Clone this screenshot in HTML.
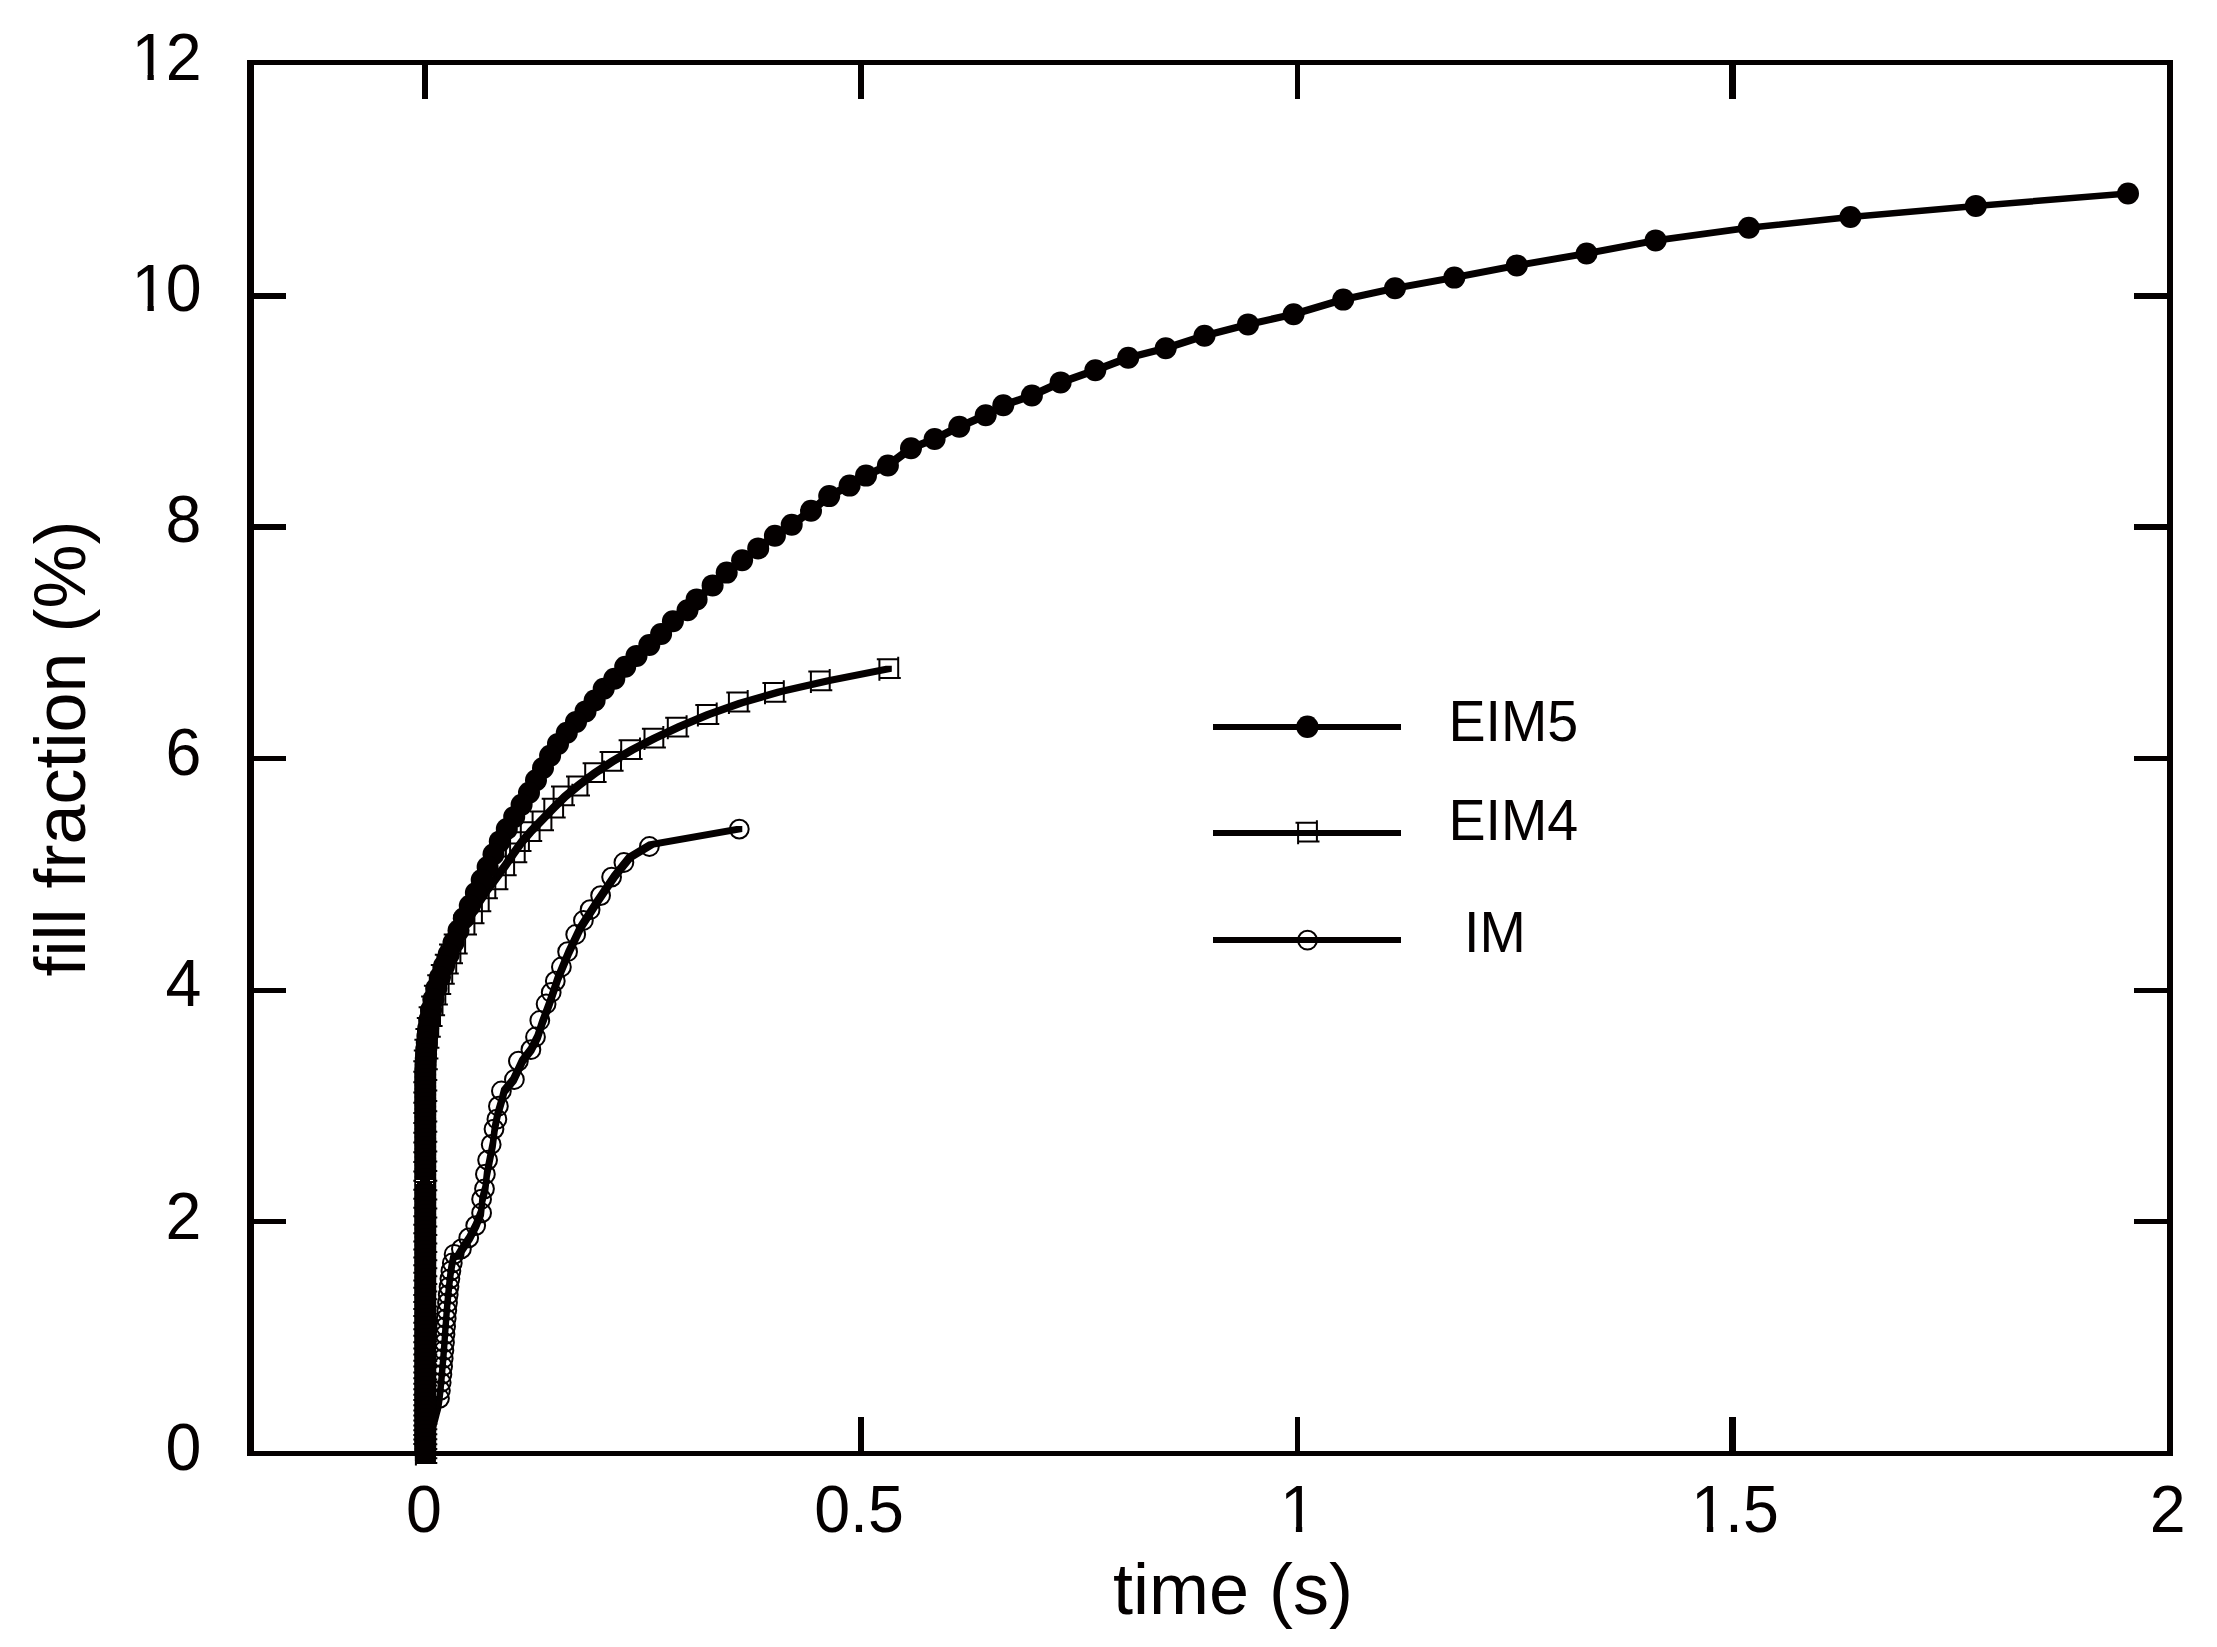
<!DOCTYPE html>
<html lang="en"><head><meta charset="utf-8"><title>fill fraction vs time</title>
<style>html,body{margin:0;padding:0;background:#fff}svg{display:block}text{font-family:'Liberation Sans', sans-serif;fill:#040000}</style>
</head><body>
<svg width="2217" height="1647" viewBox="0 0 2217 1647" shape-rendering="geometricPrecision">
<rect x="0" y="0" width="2217" height="1647" fill="#fff"/>
<g fill="#040000" shape-rendering="crispEdges">
<rect x="247" y="60" width="7" height="1396"/>
<rect x="2167" y="60" width="6" height="1396"/>
<rect x="247" y="60" width="1926" height="5"/>
<rect x="247" y="1451" width="1926" height="5"/>
<rect x="422" y="64" width="6" height="35"/>
<rect x="858" y="64" width="6" height="35"/>
<rect x="858" y="1417" width="6" height="35"/>
<rect x="1295" y="64" width="5" height="35"/>
<rect x="1295" y="1417" width="5" height="35"/>
<rect x="1729" y="64" width="7" height="35"/>
<rect x="1729" y="1417" width="7" height="35"/>
<rect x="253" y="293" width="33" height="6"/>
<rect x="2134" y="293" width="34" height="6"/>
<rect x="253" y="524" width="33" height="6"/>
<rect x="2134" y="524" width="34" height="6"/>
<rect x="253" y="756" width="33" height="5"/>
<rect x="2134" y="756" width="34" height="5"/>
<rect x="253" y="988" width="33" height="5"/>
<rect x="2134" y="988" width="34" height="5"/>
<rect x="253" y="1219" width="33" height="5"/>
<rect x="2134" y="1219" width="34" height="5"/>
</g>
<g font-size="64.5">
<text transform="translate(129.8 79.7) scale(1 1.04)"><tspan dx="1.8">1</tspan><tspan dx="-1.8">2</tspan></text>
<text transform="translate(129.8 311) scale(1 1.04)"><tspan dx="1.8">1</tspan><tspan dx="-1.8">0</tspan></text>
<text transform="translate(165.6 542.3) scale(1 1.04)">8</text>
<text transform="translate(165.6 775.3) scale(1 1.04)">6</text>
<text transform="translate(165.6 1006) scale(1 1.04)">4</text>
<text transform="translate(165.6 1238.9) scale(1 1.04)">2</text>
<text transform="translate(165.6 1470.2) scale(1 1.04)">0</text>
<text transform="translate(406.1 1532) scale(1 1.04)">0</text>
<text transform="translate(814.2 1532) scale(1 1.04)">0.5</text>
<text transform="translate(1278.2 1532) scale(1 1.04)"><tspan dx="1.8">1</tspan></text>
<text transform="translate(1689.2 1532) scale(1 1.04)"><tspan dx="1.8">1</tspan><tspan dx="-1.8">.5</tspan></text>
<text transform="translate(2149.7 1532) scale(1 1.04)">2</text>
</g>
<g fill="#fff">
<rect x="135.1" y="74.4" width="12.4" height="6.3"/>
<rect x="153.8" y="74.4" width="11.6" height="6.3"/>
<rect x="135.1" y="305.7" width="12.4" height="6.3"/>
<rect x="153.8" y="305.7" width="11.6" height="6.3"/>
<rect x="1283.5" y="1526.7" width="12.4" height="6.3"/>
<rect x="1302.2" y="1526.7" width="11.6" height="6.3"/>
<rect x="1694.5" y="1526.7" width="12.4" height="6.3"/>
<rect x="1713.2" y="1526.7" width="11.6" height="6.3"/>
</g>
<text x="1233" y="1614.3" font-size="72" text-anchor="middle">time (s)</text>
<text transform="translate(85 748.5) rotate(-90)" font-size="72" text-anchor="middle">fill fraction (%)</text>
<path fill="#040000" fill-rule="nonzero" d="M422.3 1422.8L428.3 1422.8L428.3 1456.5L422.3 1456.5ZM422.3 1383.1L428.3 1383.1L428.3 1428.8L422.3 1428.8ZM422.3 1338.7L428.3 1338.7L428.3 1389.1L422.3 1389.1ZM422.3 1297L428.3 1297L428.3 1344.7L422.3 1344.7ZM422.3 1257.4L428.3 1257.4L428.3 1303L422.3 1303ZM422.3 1216.8L428.3 1216.8L428.3 1263.4L422.3 1263.4ZM422.3 1178.8L428.3 1178.8L428.3 1222.8L422.3 1222.8ZM422.3 1147L428.3 1147L428.3 1184.8L422.3 1184.8ZM422.3 1122.6L428.3 1122.6L428.3 1153L422.3 1153ZM422.3 1103.6L428.3 1103.6L428.3 1128.6L422.3 1128.6ZM422.3 1088.8L428.3 1088.8L428.3 1109.6L422.3 1109.6ZM422.3 1077L428.3 1077L428.3 1094.8L422.3 1094.8ZM422.3 1069.4L428.3 1069.4L428.3 1083L422.3 1083ZM422.3 1069.4L422.4 1066.1L428.4 1066.1L428.4 1072.1L428.3 1075.4L422.3 1075.4ZM422.4 1064.3L428.4 1064.3L428.4 1072.1L422.4 1072.1ZM422.4 1064.3L422.6 1061L428.6 1061L428.6 1067L428.4 1070.3L422.4 1070.3ZM422.6 1061L422.9 1055.6L428.9 1055.6L428.9 1061.6L428.6 1067L422.6 1067ZM422.9 1055.6L423.2 1049.5L429.2 1049.5L429.2 1055.5L428.9 1061.6L422.9 1061.6ZM423.2 1049.5L423.6 1043.2L429.6 1043.2L429.6 1049.2L429.2 1055.5L423.2 1055.5ZM423.6 1043.2L424.2 1037L430.2 1037L430.2 1043L429.6 1049.2L423.6 1049.2ZM424.2 1037L424.9 1031L430.9 1031L430.9 1037L430.2 1043L424.2 1043ZM424.9 1031L425.7 1025L431.7 1025L431.7 1031L430.9 1037L424.9 1037ZM425.7 1025L426.6 1019L432.6 1019L432.6 1025L431.7 1031L425.7 1031ZM426.6 1019L427.7 1013L433.7 1013L433.7 1019L432.6 1025L426.6 1025ZM427.7 1013L429.1 1006.8L435.1 1006.8L435.1 1012.8L433.7 1019L427.7 1019ZM429.1 1006.8L430.6 1000.5L436.6 1000.5L436.6 1006.5L435.1 1012.8L429.1 1012.8ZM430.6 1000.5L432.3 994.4L438.3 994.4L438.3 1000.4L436.6 1006.5L430.6 1006.5ZM432.3 994.4L434 988.5L440 988.5L440 994.5L438.3 1000.4L432.3 1000.4ZM434 988.5L435.7 982.9L441.7 982.9L441.7 988.9L440 994.5L434 994.5ZM435.7 982.9L437.6 977.5L443.6 977.5L443.6 983.5L441.7 988.9L435.7 988.9ZM437.6 977.5L439.4 972.4L445.4 972.4L445.4 978.4L443.6 983.5L437.6 983.5ZM439.4 972.4L441 968L447 968L447 974L445.4 978.4L439.4 978.4ZM441 968L442.4 964.4L448.4 964.4L448.4 970.4L447 974L441 974ZM442.4 964.4L443.6 961.5L449.6 961.5L449.6 967.5L448.4 970.4L442.4 970.4ZM443.6 961.5L444.8 958.8L450.8 958.8L450.8 964.8L449.6 967.5L443.6 967.5ZM444.8 958.8L446 956L452 956L452 962L450.8 964.8L444.8 964.8ZM446 956L447.2 952.9L453.2 952.9L453.2 958.9L452 962L446 962ZM447.2 952.9L448.5 949.8L454.5 949.8L454.5 955.8L453.2 958.9L447.2 958.9ZM448.5 949.8L449.7 946.8L455.7 946.8L455.7 952.8L454.5 955.8L448.5 955.8ZM449.7 946.8L451 944L457 944L457 950L455.7 952.8L449.7 952.8ZM451 944L452.5 941.3L458.5 941.3L458.5 947.3L457 950L451 950ZM452.5 941.3L454.1 938.8L460.1 938.8L460.1 944.8L458.5 947.3L452.5 947.3ZM454.1 938.8L455.5 936.5L461.5 936.5L461.5 942.5L460.1 944.8L454.1 944.8ZM455.5 936.5L456.5 935L462.5 935L462.5 941L461.5 942.5L455.5 942.5ZM456.5 935L462.7 922.6L468.7 922.6L468.7 928.6L462.5 941L456.5 941ZM462.7 922.6L469.4 910.6L475.4 910.6L475.4 916.6L468.7 928.6L462.7 928.6ZM469.4 910.6L476.4 898.7L482.4 898.7L482.4 904.7L475.4 916.6L469.4 916.6ZM476.4 898.7L484.2 887L490.2 887L490.2 893L482.4 904.7L476.4 904.7ZM484.2 887L493 875.2L499 875.2L499 881.2L490.2 893L484.2 893ZM493 875.2L502 863L508 863L508 869L499 881.2L493 881.2ZM502 863L510.5 850.6L516.5 850.6L516.5 856.6L508 869L502 869ZM510.5 850.6L518.6 839.2L524.6 839.2L524.6 845.2L516.5 856.6L510.5 856.6ZM518.6 839.2L528 828.3L534 828.3L534 834.3L524.6 845.2L518.6 845.2ZM528 828.3L538.9 817.1L544.9 817.1L544.9 823.1L534 834.3L528 834.3ZM538.9 817.1L550.2 805.3L556.2 805.3L556.2 811.3L544.9 823.1L538.9 823.1ZM550.2 805.3L562.1 793.5L568.1 793.5L568.1 799.5L556.2 811.3L550.2 811.3ZM562.1 793.5L576 781.9L582 781.9L582 787.9L568.1 799.5L562.1 799.5ZM576 781.9L592 770.1L598 770.1L598 776.1L582 787.9L576 787.9ZM592 770.1L609.6 758.3L615.6 758.3L615.6 764.3L598 776.1L592 776.1ZM609.6 758.3L629.3 746.7L635.3 746.7L635.3 752.7L615.6 764.3L609.6 764.3ZM629.3 746.7L651.6 735.2L657.6 735.2L657.6 741.2L635.3 752.7L629.3 752.7ZM651.6 735.2L676.8 723.6L682.8 723.6L682.8 729.6L657.6 741.2L651.6 741.2ZM676.8 723.6L705.4 711.6L711.4 711.6L711.4 717.6L682.8 729.6L676.8 729.6ZM705.4 711.6L737.9 700L743.9 700L743.9 706L711.4 717.6L705.4 717.6ZM737.9 700L776.8 688.8L782.8 688.8L782.8 694.8L743.9 706L737.9 706ZM776.8 688.8L826.4 677.5L832.4 677.5L832.4 683.5L782.8 694.8L776.8 694.8ZM826.4 677.5L885.8 665.7L891.8 665.7L891.8 671.7L832.4 683.5L826.4 683.5Z"/>
<g fill="none" stroke="#040000" stroke-width="2" stroke-linecap="butt">
<path d="M413.3 1444.1H434.7M434.7 1441.5V1462.9M415.9 1462.9H437.3M415.9 1444.1V1465.5"/>
<path d="M413.3 1439.5H434.7M434.7 1436.9V1458.3M415.9 1458.3H437.3M415.9 1439.5V1460.9"/>
<path d="M413.3 1434.9H434.7M434.7 1432.3V1453.7M415.9 1453.7H437.3M415.9 1434.9V1456.3"/>
<path d="M413.3 1430.2H434.7M434.7 1427.6V1449M415.9 1449H437.3M415.9 1430.2V1451.6"/>
<path d="M413.3 1425.4H434.7M434.7 1422.8V1444.2M415.9 1444.2H437.3M415.9 1425.4V1446.8"/>
<path d="M413.3 1420.5H434.7M434.7 1417.9V1439.3M415.9 1439.3H437.3M415.9 1420.5V1441.9"/>
<path d="M413.3 1415.5H434.7M434.7 1412.9V1434.3M415.9 1434.3H437.3M415.9 1415.5V1436.9"/>
<path d="M413.3 1410.5H434.7M434.7 1407.9V1429.3M415.9 1429.3H437.3M415.9 1410.5V1431.9"/>
<path d="M413.3 1405.3H434.7M434.7 1402.7V1424.1M415.9 1424.1H437.3M415.9 1405.3V1426.7"/>
<path d="M413.3 1400.1H434.7M434.7 1397.5V1418.9M415.9 1418.9H437.3M415.9 1400.1V1421.5"/>
<path d="M413.3 1394.8H434.7M434.7 1392.2V1413.6M415.9 1413.6H437.3M415.9 1394.8V1416.2"/>
<path d="M413.3 1389.3H434.7M434.7 1386.7V1408.1M415.9 1408.1H437.3M415.9 1389.3V1410.7"/>
<path d="M413.3 1383.8H434.7M434.7 1381.2V1402.6M415.9 1402.6H437.3M415.9 1383.8V1405.2"/>
<path d="M413.3 1378.2H434.7M434.7 1375.6V1397M415.9 1397H437.3M415.9 1378.2V1399.6"/>
<path d="M413.3 1372.4H434.7M434.7 1369.8V1391.2M415.9 1391.2H437.3M415.9 1372.4V1393.8"/>
<path d="M413.3 1366.6H434.7M434.7 1364V1385.4M415.9 1385.4H437.3M415.9 1366.6V1388"/>
<path d="M413.3 1360.7H434.7M434.7 1358.1V1379.5M415.9 1379.5H437.3M415.9 1360.7V1382.1"/>
<path d="M413.3 1354.6H434.7M434.7 1352V1373.4M415.9 1373.4H437.3M415.9 1354.6V1376"/>
<path d="M413.3 1348.5H434.7M434.7 1345.9V1367.3M415.9 1367.3H437.3M415.9 1348.5V1369.9"/>
<path d="M413.3 1342.2H434.7M434.7 1339.6V1361M415.9 1361H437.3M415.9 1342.2V1363.6"/>
<path d="M413.3 1335.8H434.7M434.7 1333.2V1354.6M415.9 1354.6H437.3M415.9 1335.8V1357.2"/>
<path d="M413.3 1329.3H434.7M434.7 1326.7V1348.1M415.9 1348.1H437.3M415.9 1329.3V1350.7"/>
<path d="M413.3 1322.7H434.7M434.7 1320.1V1341.5M415.9 1341.5H437.3M415.9 1322.7V1344.1"/>
<path d="M413.3 1315.9H434.7M434.7 1313.3V1334.7M415.9 1334.7H437.3M415.9 1315.9V1337.3"/>
<path d="M413.3 1309.1H434.7M434.7 1306.5V1327.9M415.9 1327.9H437.3M415.9 1309.1V1330.5"/>
<path d="M413.3 1302.1H434.7M434.7 1299.5V1320.9M415.9 1320.9H437.3M415.9 1302.1V1323.5"/>
<path d="M413.3 1295H434.7M434.7 1292.4V1313.8M415.9 1313.8H437.3M415.9 1295V1316.4"/>
<path d="M413.3 1287.7H434.7M434.7 1285.1V1306.5M415.9 1306.5H437.3M415.9 1287.7V1309.1"/>
<path d="M413.3 1280.4H434.7M434.7 1277.8V1299.2M415.9 1299.2H437.3M415.9 1280.4V1301.8"/>
<path d="M413.3 1272.8H434.7M434.7 1270.2V1291.6M415.9 1291.6H437.3M415.9 1272.8V1294.2"/>
<path d="M413.3 1265.2H434.7M434.7 1262.6V1284M415.9 1284H437.3M415.9 1265.2V1286.6"/>
<path d="M413.3 1257.4H434.7M434.7 1254.8V1276.2M415.9 1276.2H437.3M415.9 1257.4V1278.8"/>
<path d="M413.3 1249.5H434.7M434.7 1246.9V1268.3M415.9 1268.3H437.3M415.9 1249.5V1270.9"/>
<path d="M413.3 1241.4H434.7M434.7 1238.8V1260.2M415.9 1260.2H437.3M415.9 1241.4V1262.8"/>
<path d="M413.3 1233.2H434.7M434.7 1230.6V1252M415.9 1252H437.3M415.9 1233.2V1254.6"/>
<path d="M413.3 1224.8H434.7M434.7 1222.2V1243.6M415.9 1243.6H437.3M415.9 1224.8V1246.2"/>
<path d="M413.3 1216.3H434.7M434.7 1213.7V1235.1M415.9 1235.1H437.3M415.9 1216.3V1237.7"/>
<path d="M413.3 1207.7H434.7M434.7 1205.1V1226.5M415.9 1226.5H437.3M415.9 1207.7V1229.1"/>
<path d="M413.3 1198.8H434.7M434.7 1196.2V1217.6M415.9 1217.6H437.3M415.9 1198.8V1220.2"/>
<path d="M413.3 1189.8H434.7M434.7 1187.2V1208.6M415.9 1208.6H437.3M415.9 1189.8V1211.2"/>
<path d="M413.3 1180.7H434.7M434.7 1178.1V1199.5M415.9 1199.5H437.3M415.9 1180.7V1202.1"/>
<path d="M413.3 1171.4H434.7M434.7 1168.8V1190.2M415.9 1190.2H437.3M415.9 1171.4V1192.8"/>
<path d="M413.3 1161.9H434.7M434.7 1159.3V1180.7M415.9 1180.7H437.3M415.9 1161.9V1183.3"/>
<path d="M413.3 1152.3H434.7M434.7 1149.7V1171.1M415.9 1171.1H437.3M415.9 1152.3V1173.7"/>
<path d="M413.3 1142.6H434.7M434.7 1140V1161.4M415.9 1161.4H437.3M415.9 1142.6V1164"/>
<path d="M413.3 1132.8H434.7M434.7 1130.2V1151.6M415.9 1151.6H437.3M415.9 1132.8V1154.2"/>
<path d="M413.3 1122.9H434.7M434.7 1120.3V1141.7M415.9 1141.7H437.3M415.9 1122.9V1144.3"/>
<path d="M413.3 1112.9H434.7M434.7 1110.3V1131.7M415.9 1131.7H437.3M415.9 1112.9V1134.3"/>
<path d="M413.3 1102.8H434.7M434.7 1100.2V1121.6M415.9 1121.6H437.3M415.9 1102.8V1124.2"/>
<path d="M413.3 1092.5H434.7M434.7 1089.9V1111.3M415.9 1111.3H437.3M415.9 1092.5V1113.9"/>
<path d="M413.3 1082.2H434.7M434.7 1079.6V1101M415.9 1101H437.3M415.9 1082.2V1103.6"/>
<path d="M413.3 1071.8H434.7M434.7 1069.2V1090.6M415.9 1090.6H437.3M415.9 1071.8V1093.2"/>
<path d="M413.3 1061.2H434.7M434.7 1058.6V1080M415.9 1080H437.3M415.9 1061.2V1082.6"/>
<path d="M413.8 1050.5H435.2M435.2 1047.9V1069.3M416.4 1069.3H437.8M416.4 1050.5V1071.9"/>
<path d="M414.4 1039.8H435.8M435.8 1037.2V1058.6M417 1058.6H438.4M417 1039.8V1061.2"/>
<path d="M415.4 1028.9H436.8M436.8 1026.3V1047.7M418 1047.7H439.4M418 1028.9V1050.3"/>
<path d="M416.8 1018H438.2M438.2 1015.4V1036.8M419.4 1036.8H440.8M419.4 1018V1039.4"/>
<path d="M418.6 1007.2H440M440 1004.6V1026M421.2 1026H442.6M421.2 1007.2V1028.6"/>
<path d="M421.1 996.4H442.5M442.5 993.8V1015.2M423.7 1015.2H445.1M423.7 996.4V1017.8"/>
<path d="M423.9 985.8H445.3M445.3 983.2V1004.6M426.5 1004.6H447.9M426.5 985.8V1007.2"/>
<path d="M427.2 975.3H448.6M448.6 972.7V994.1M429.8 994.1H451.2M429.8 975.3V996.7"/>
<path d="M430.8 964.9H452.2M452.2 962.3V983.7M433.4 983.7H454.8M433.4 964.9V986.3"/>
<path d="M434.8 954.7H456.2M456.2 952.1V973.5M437.4 973.5H458.8M437.4 954.7V976.1"/>
<path d="M439 944.5H460.4M460.4 941.9V963.3M441.6 963.3H463M441.6 944.5V965.9"/>
<path d="M443.7 934.6H465.1M465.1 932V953.4M446.3 953.4H467.7M446.3 934.6V956"/>
<path d="M453 915.6H474.4M474.4 913V934.4M455.6 934.4H477M455.6 915.6V937"/>
<path d="M460.5 904.4H481.9M481.9 901.8V923.2M463.1 923.2H484.5M463.1 904.4V925.8"/>
<path d="M467.3 892.5H488.7M488.7 889.9V911.3M469.9 911.3H491.3M469.9 892.5V913.9"/>
<path d="M473.9 879.4H495.3M495.3 876.8V898.2M476.5 898.2H497.9M476.5 879.4V900.8"/>
<path d="M484.4 870.4H505.8M505.8 867.8V889.2M487 889.2H508.4M487 870.4V891.8"/>
<path d="M492.7 856.4H514.1M514.1 853.8V875.2M495.3 875.2H516.7M495.3 856.4V877.8"/>
<path d="M503.3 843.4H524.7M524.7 840.8V862.2M505.9 862.2H527.3M505.9 843.4V864.8"/>
<path d="M507.5 832.3H528.9M528.9 829.7V851.1M510.1 851.1H531.5M510.1 832.3V853.7"/>
<path d="M518.2 822.3H539.6M539.6 819.7V841.1M520.8 841.1H542.2M520.8 822.3V843.7"/>
<path d="M530 811.4H551.4M551.4 808.8V830.2M532.6 830.2H554M532.6 811.4V832.8"/>
<path d="M541.7 798.7H563.1M563.1 796.1V817.5M544.3 817.5H565.7M544.3 798.7V820.1"/>
<path d="M551 786.4H572.4M572.4 783.8V805.2M553.6 805.2H575M553.6 786.4V807.8"/>
<path d="M566 776.6H587.4M587.4 774V795.4M568.6 795.4H590M568.6 776.6V798"/>
<path d="M582.6 763.2H604M604 760.6V782M585.2 782H606.6M585.2 763.2V784.6"/>
<path d="M599.6 751.9H621M621 749.3V770.7M602.2 770.7H623.6M602.2 751.9V773.3"/>
<path d="M618.6 740.2H640M640 737.6V759M621.2 759H642.6M621.2 740.2V761.6"/>
<path d="M641.9 728.7H663.3M663.3 726.1V747.5M644.5 747.5H665.9M644.5 728.7V750.1"/>
<path d="M665.2 717.8H686.6M686.6 715.2V736.6M667.8 736.6H689.2M667.8 717.8V739.2"/>
<path d="M695.3 705.1H716.7M716.7 702.5V723.9M697.9 723.9H719.3M697.9 705.1V726.5"/>
<path d="M726.3 692.6H747.7M747.7 690V711.4M728.9 711.4H750.3M728.9 692.6V714"/>
<path d="M762.4 682.9H783.8M783.8 680.3V701.7M765 701.7H786.4M765 682.9V704.3"/>
<path d="M808.3 671.5H829.7M829.7 668.9V690.3M810.9 690.3H832.3M810.9 671.5V692.9"/>
<path d="M876.8 659.3H898.2M898.2 656.7V678.1M879.4 678.1H900.8M879.4 659.3V680.7"/>
</g>
<rect x="415" y="1440" width="20.8" height="23.6" fill="#040000"/>
<path fill="#040000" fill-rule="nonzero" d="M422.3 1450.5L424.3 1443.4L430.3 1443.4L430.3 1449.4L428.3 1456.5L422.3 1456.5ZM424.3 1443.4L427.2 1433.2L433.2 1433.2L433.2 1439.2L430.3 1449.4L424.3 1449.4ZM427.2 1433.2L430.1 1422.3L436.1 1422.3L436.1 1428.3L433.2 1439.2L427.2 1439.2ZM430.1 1422.3L432.5 1413.5L438.5 1413.5L438.5 1419.5L436.1 1428.3L430.1 1428.3ZM432.5 1413.5L433.9 1408.1L439.9 1408.1L439.9 1414.1L438.5 1419.5L432.5 1419.5ZM433.9 1408.1L434.9 1404.6L440.9 1404.6L440.9 1410.6L439.9 1414.1L433.9 1414.1ZM434.9 1404.6L435.6 1400.9L441.6 1400.9L441.6 1406.9L440.9 1410.6L434.9 1410.6ZM435.6 1400.9L436.5 1395L442.5 1395L442.5 1401L441.6 1406.9L435.6 1406.9ZM436.5 1395L437.5 1386.1L443.5 1386.1L443.5 1392.1L442.5 1401L436.5 1401ZM437.5 1386.1L438.5 1375.4L444.5 1375.4L444.5 1381.4L443.5 1392.1L437.5 1392.1ZM438.5 1375.4L439.5 1363.9L445.5 1363.9L445.5 1369.9L444.5 1381.4L438.5 1381.4ZM439.5 1363.9L440.5 1352.4L446.5 1352.4L446.5 1358.4L445.5 1369.9L439.5 1369.9ZM440.5 1352.4L441.4 1340.8L447.4 1340.8L447.4 1346.8L446.5 1358.4L440.5 1358.4ZM441.4 1340.8L442.2 1328.8L448.2 1328.8L448.2 1334.8L447.4 1346.8L441.4 1346.8ZM442.2 1328.8L443.1 1317L449.1 1317L449.1 1323L448.2 1334.8L442.2 1334.8ZM443.1 1317L443.9 1306.2L449.9 1306.2L449.9 1312.2L449.1 1323L443.1 1323ZM443.9 1306.2L444.8 1296.3L450.8 1296.3L450.8 1302.3L449.9 1312.2L443.9 1312.2ZM444.8 1296.3L445.7 1287.1L451.7 1287.1L451.7 1293.1L450.8 1302.3L444.8 1302.3ZM445.7 1287.1L446.6 1278.8L452.6 1278.8L452.6 1284.8L451.7 1293.1L445.7 1293.1ZM446.6 1278.8L447.4 1271.6L453.4 1271.6L453.4 1277.6L452.6 1284.8L446.6 1284.8ZM447.4 1271.6L448.3 1265.6L454.3 1265.6L454.3 1271.6L453.4 1277.6L447.4 1277.6ZM448.3 1265.6L449.2 1260.6L455.2 1260.6L455.2 1266.6L454.3 1271.6L448.3 1271.6ZM449.2 1260.6L450 1256.8L456 1256.8L456 1262.8L455.2 1266.6L449.2 1266.6ZM450 1256.8L450.5 1254L456.5 1254L456.5 1260L456 1262.8L450 1262.8ZM450.5 1254L454.8 1253.6L460.8 1253.6L460.8 1259.6L456.5 1260L450.5 1260ZM454.8 1253.6L459.3 1245.9L465.3 1245.9L465.3 1251.9L460.8 1259.6L454.8 1259.6ZM459.3 1245.9L466.6 1234.9L472.6 1234.9L472.6 1240.9L465.3 1251.9L459.3 1251.9ZM466.6 1234.9L473 1222.6L479 1222.6L479 1228.6L472.6 1240.9L466.6 1240.9ZM473 1222.6L478 1209.9L484 1209.9L484 1215.9L479 1228.6L473 1228.6ZM478 1209.9L479.4 1196.2L485.4 1196.2L485.4 1202.2L484 1215.9L478 1215.9ZM479.4 1196.2L482.3 1185.8L488.3 1185.8L488.3 1191.8L485.4 1202.2L479.4 1202.2ZM482.3 1185.8L483.9 1171.2L489.9 1171.2L489.9 1177.2L488.3 1191.8L482.3 1191.8ZM483.9 1171.2L486.7 1157L492.7 1157L492.7 1163L489.9 1177.2L483.9 1177.2ZM486.7 1157L489.8 1141.4L495.8 1141.4L495.8 1147.4L492.7 1163L486.7 1163ZM489.8 1141.4L491.7 1126L497.7 1126L497.7 1132L495.8 1147.4L489.8 1147.4ZM491.7 1126L494.5 1112L500.5 1112L500.5 1118L497.7 1132L491.7 1132ZM494.5 1112L498.9 1097L504.9 1097L504.9 1103L500.5 1118L494.5 1118ZM498.9 1097L501.2 1088L507.2 1088L507.2 1094L504.9 1103L498.9 1103ZM501.2 1088L510.4 1077L516.4 1077L516.4 1083L507.2 1094L501.2 1094ZM510.4 1077L515.2 1067L521.2 1067L521.2 1073L516.4 1083L510.4 1083ZM515.2 1067L519.4 1058L525.4 1058L525.4 1064L521.2 1073L515.2 1073ZM519.4 1058L528.1 1046.7L534.1 1046.7L534.1 1052.7L525.4 1064L519.4 1064ZM528.1 1046.7L534.6 1034L540.6 1034L540.6 1040L534.1 1052.7L528.1 1052.7ZM534.6 1034L539.1 1020.3L545.1 1020.3L545.1 1026.3L540.6 1040L534.6 1040ZM539.1 1020.3L546.3 1001L552.3 1001L552.3 1007L545.1 1026.3L539.1 1026.3ZM546.3 1001L554.9 975.5L560.9 975.5L560.9 981.5L552.3 1007L546.3 1007ZM554.9 975.5L565.5 950L571.5 950L571.5 956L560.9 981.5L554.9 981.5ZM565.5 950L577.6 924.5L583.6 924.5L583.6 930.5L571.5 956L565.5 956ZM577.6 924.5L594.1 899L600.1 899L600.1 905L583.6 930.5L577.6 930.5ZM594.1 899L611.4 873.5L617.4 873.5L617.4 879.5L600.1 905L594.1 905ZM611.4 873.5L626.7 854.4L632.7 854.4L632.7 860.4L617.4 879.5L611.4 879.5ZM626.7 854.4L648.3 841.6L654.3 841.6L654.3 847.6L632.7 860.4L626.7 860.4ZM648.3 841.6L736.3 826.1L742.3 826.1L742.3 832.1L654.3 847.6L648.3 847.6Z"/>
<g fill="none" stroke="#040000" stroke-width="2">
<circle cx="439.5" cy="1398.3" r="9.4"/>
<circle cx="440.4" cy="1390.4" r="9.4"/>
<circle cx="441.2" cy="1382.4" r="9.4"/>
<circle cx="441.9" cy="1374.5" r="9.4"/>
<circle cx="442.6" cy="1366.5" r="9.4"/>
<circle cx="443.2" cy="1358.5" r="9.4"/>
<circle cx="443.9" cy="1350.5" r="9.4"/>
<circle cx="444.5" cy="1342.6" r="9.4"/>
<circle cx="445" cy="1334.6" r="9.4"/>
<circle cx="445.6" cy="1326.6" r="9.4"/>
<circle cx="446.2" cy="1318.6" r="9.4"/>
<circle cx="446.8" cy="1310.6" r="9.4"/>
<circle cx="447.5" cy="1302.7" r="9.4"/>
<circle cx="448.2" cy="1294.7" r="9.4"/>
<circle cx="449" cy="1286.8" r="9.4"/>
<circle cx="449.9" cy="1278.8" r="9.4"/>
<circle cx="450.9" cy="1270.9" r="9.4"/>
<circle cx="452.3" cy="1263" r="9.4"/>
<circle cx="454.1" cy="1254.3" r="9.4"/>
<circle cx="461.4" cy="1248.9" r="9.4"/>
<circle cx="468.7" cy="1237.9" r="9.4"/>
<circle cx="475.7" cy="1225.6" r="9.4"/>
<circle cx="481.6" cy="1212.9" r="9.4"/>
<circle cx="481.6" cy="1199.2" r="9.4"/>
<circle cx="484.5" cy="1188.8" r="9.4"/>
<circle cx="485.4" cy="1174.2" r="9.4"/>
<circle cx="487.6" cy="1160.1" r="9.4"/>
<circle cx="491.2" cy="1144.4" r="9.4"/>
<circle cx="494" cy="1129.1" r="9.4"/>
<circle cx="496.9" cy="1119.2" r="9.4"/>
<circle cx="498.4" cy="1106.2" r="9.4"/>
<circle cx="501.4" cy="1091" r="9.4"/>
<circle cx="514.4" cy="1079.5" r="9.4"/>
<circle cx="518.4" cy="1061.1" r="9.4"/>
<circle cx="530.9" cy="1049.7" r="9.4"/>
<circle cx="535.5" cy="1037" r="9.4"/>
<circle cx="539.8" cy="1020.5" r="9.4"/>
<circle cx="546.1" cy="1004" r="9.4"/>
<circle cx="551.2" cy="992.5" r="9.4"/>
<circle cx="555.3" cy="981.1" r="9.4"/>
<circle cx="561.4" cy="967" r="9.4"/>
<circle cx="567.6" cy="951.7" r="9.4"/>
<circle cx="575.7" cy="934.5" r="9.4"/>
<circle cx="583.4" cy="920.5" r="9.4"/>
<circle cx="590.1" cy="909.7" r="9.4"/>
<circle cx="600.6" cy="895.6" r="9.4"/>
<circle cx="611.6" cy="877.1" r="9.4"/>
<circle cx="623.9" cy="862.5" r="9.4"/>
<circle cx="649.4" cy="846.5" r="9.4"/>
<circle cx="739.3" cy="829.1" r="9.4"/>
</g>
<path fill="#040000" fill-rule="nonzero" d="M422.3 1433.8L428.3 1433.8L428.3 1456.5L422.3 1456.5ZM422.3 1410.6L428.3 1410.6L428.3 1439.8L422.3 1439.8ZM422.3 1383.1L428.3 1383.1L428.3 1416.6L422.3 1416.6ZM422.3 1353.6L428.3 1353.6L428.3 1389.1L422.3 1389.1ZM422.3 1324.2L428.3 1324.2L428.3 1359.6L422.3 1359.6ZM422.3 1297L428.3 1297L428.3 1330.2L422.3 1330.2ZM422.3 1270.9L428.3 1270.9L428.3 1303L422.3 1303ZM422.3 1243.8L428.3 1243.8L428.3 1276.9L422.3 1276.9ZM422.3 1216.8L428.3 1216.8L428.3 1249.8L422.3 1249.8ZM422.3 1190.9L428.3 1190.9L428.3 1222.8L422.3 1222.8ZM422.3 1167.3L428.3 1167.3L428.3 1196.9L422.3 1196.9ZM422.3 1147L428.3 1147L428.3 1173.3L422.3 1173.3ZM422.3 1130.1L428.3 1130.1L428.3 1153L422.3 1153ZM422.3 1115.7L428.3 1115.7L428.3 1136.1L422.3 1136.1ZM422.3 1103.6L428.3 1103.6L428.3 1121.7L422.3 1121.7ZM422.3 1093.4L428.3 1093.4L428.3 1109.6L422.3 1109.6ZM422.3 1084.6L428.3 1084.6L428.3 1099.4L422.3 1099.4ZM422.3 1077L428.3 1077L428.3 1090.6L422.3 1090.6ZM422.3 1071.3L428.3 1071.3L428.3 1083L422.3 1083ZM422.3 1068L428.3 1068L428.3 1077.3L422.3 1077.3ZM422.3 1068L422.4 1066.1L428.4 1066.1L428.4 1072.1L428.3 1074L422.3 1074ZM422.4 1064.9L428.4 1064.9L428.4 1072.1L422.4 1072.1ZM422.4 1064.9L422.5 1063.5L428.5 1063.5L428.5 1069.5L428.4 1070.9L422.4 1070.9ZM422.5 1063.5L422.6 1061L428.6 1061L428.6 1067L428.5 1069.5L422.5 1069.5ZM422.6 1061L422.8 1057.5L428.8 1057.5L428.8 1063.5L428.6 1067L422.6 1067ZM422.8 1057.5L422.9 1053.6L428.9 1053.6L428.9 1059.6L428.8 1063.5L422.8 1063.5ZM422.9 1053.6L423.1 1049.5L429.1 1049.5L429.1 1055.5L428.9 1059.6L422.9 1059.6ZM423.1 1049.5L423.4 1045.3L429.4 1045.3L429.4 1051.3L429.1 1055.5L423.1 1055.5ZM423.4 1045.3L423.7 1041.1L429.7 1041.1L429.7 1047.1L429.4 1051.3L423.4 1051.3ZM423.7 1041.1L424 1037L430 1037L430 1043L429.7 1047.1L423.7 1047.1ZM424 1037L424.4 1033L430.4 1033L430.4 1039L430 1043L424 1043ZM424.4 1033L424.8 1029L430.8 1029L430.8 1035L430.4 1039L424.4 1039ZM424.8 1029L425.2 1025L431.2 1025L431.2 1031L430.8 1035L424.8 1035ZM425.2 1025L425.8 1021L431.8 1021L431.8 1027L431.2 1031L425.2 1031ZM425.8 1021L426.3 1017L432.3 1017L432.3 1023L431.8 1027L425.8 1027ZM426.3 1017L427 1013L433 1013L433 1019L432.3 1023L426.3 1023ZM427 1013L427.7 1008.9L433.7 1008.9L433.7 1014.9L433 1019L427 1019ZM427.7 1008.9L428.5 1004.9L434.5 1004.9L434.5 1010.9L433.7 1014.9L427.7 1014.9ZM428.5 1004.9L429.4 1000.8L435.4 1000.8L435.4 1006.8L434.5 1010.9L428.5 1010.9ZM429.4 1000.8L430.4 996.7L436.4 996.7L436.4 1002.7L435.4 1006.8L429.4 1006.8ZM430.4 996.7L431.4 992.6L437.4 992.6L437.4 998.6L436.4 1002.7L430.4 1002.7ZM431.4 992.6L432.5 988.5L438.5 988.5L438.5 994.5L437.4 998.6L431.4 998.6ZM432.5 988.5L433.7 984.4L439.7 984.4L439.7 990.4L438.5 994.5L432.5 994.5ZM433.7 984.4L435 980.3L441 980.3L441 986.3L439.7 990.4L433.7 990.4ZM435 980.3L436.3 976.2L442.3 976.2L442.3 982.2L441 986.3L435 986.3ZM436.3 976.2L437.8 972.1L443.8 972.1L443.8 978.1L442.3 982.2L436.3 982.2ZM437.8 972.1L439.2 968.1L445.2 968.1L445.2 974.1L443.8 978.1L437.8 978.1ZM439.2 968.1L440.7 964L446.7 964L446.7 970L445.2 974.1L439.2 974.1ZM440.7 964L442.2 960L448.2 960L448.2 966L446.7 970L440.7 970ZM442.2 960L443.8 956L449.8 956L449.8 962L448.2 966L442.2 966ZM443.8 956L445.4 952L451.4 952L451.4 958L449.8 962L443.8 962ZM445.4 952L447.1 948L453.1 948L453.1 954L451.4 958L445.4 958ZM447.1 948L448.7 944L454.7 944L454.7 950L453.1 954L447.1 954ZM448.7 944L450.4 940L456.4 940L456.4 946L454.7 950L448.7 950ZM450.4 940L452.1 936L458.1 936L458.1 942L456.4 946L450.4 946ZM452.1 936L453.7 931.9L459.7 931.9L459.7 937.9L458.1 942L452.1 942ZM453.7 931.9L455.4 927.8L461.4 927.8L461.4 933.8L459.7 937.9L453.7 937.9ZM455.4 927.8L457.1 923.7L463.1 923.7L463.1 929.7L461.4 933.8L455.4 933.8ZM457.1 923.7L458.8 919.7L464.8 919.7L464.8 925.7L463.1 929.7L457.1 929.7ZM458.8 919.7L460.6 915.6L466.6 915.6L466.6 921.6L464.8 925.7L458.8 925.7ZM460.6 915.6L462.5 911.6L468.5 911.6L468.5 917.6L466.6 921.6L460.6 921.6ZM462.5 911.6L464.4 907.6L470.4 907.6L470.4 913.6L468.5 917.6L462.5 917.6ZM464.4 907.6L466.3 903.6L472.3 903.6L472.3 909.6L470.4 913.6L464.4 913.6ZM466.3 903.6L468.3 899.6L474.3 899.6L474.3 905.6L472.3 909.6L466.3 909.6ZM468.3 899.6L470.3 895.5L476.3 895.5L476.3 901.5L474.3 905.6L468.3 905.6ZM470.3 895.5L472.3 891.3L478.3 891.3L478.3 897.3L476.3 901.5L470.3 901.5ZM472.3 891.3L474.3 886.9L480.3 886.9L480.3 892.9L478.3 897.3L472.3 897.3ZM474.3 886.9L476.3 882.5L482.3 882.5L482.3 888.5L480.3 892.9L474.3 892.9ZM476.3 882.5L478.3 877.9L484.3 877.9L484.3 883.9L482.3 888.5L476.3 888.5ZM478.3 877.9L480.4 873.3L486.4 873.3L486.4 879.3L484.3 883.9L478.3 883.9ZM480.4 873.3L482.4 868.8L488.4 868.8L488.4 874.8L486.4 879.3L480.4 879.3ZM482.4 868.8L484.5 864.2L490.5 864.2L490.5 870.2L488.4 874.8L482.4 874.8ZM484.5 864.2L486.6 859.6L492.6 859.6L492.6 865.6L490.5 870.2L484.5 870.2ZM486.6 859.6L488.8 854.9L494.8 854.9L494.8 860.9L492.6 865.6L486.6 865.6ZM488.8 854.9L490.9 850.3L496.9 850.3L496.9 856.3L494.8 860.9L488.8 860.9ZM490.9 850.3L493.1 845.7L499.1 845.7L499.1 851.7L496.9 856.3L490.9 856.3ZM493.1 845.7L495.3 841.2L501.3 841.2L501.3 847.2L499.1 851.7L493.1 851.7ZM495.3 841.2L497.5 837L503.5 837L503.5 843L501.3 847.2L495.3 847.2ZM497.5 837L499.7 833L505.7 833L505.7 839L503.5 843L497.5 843ZM499.7 833L501.8 829.2L507.8 829.2L507.8 835.2L505.7 839L499.7 839ZM501.8 829.2L504 825.6L510 825.6L510 831.6L507.8 835.2L501.8 835.2ZM504 825.6L506.2 822.1L512.2 822.1L512.2 828.1L510 831.6L504 831.6ZM506.2 822.1L508.3 818.5L514.3 818.5L514.3 824.5L512.2 828.1L506.2 828.1ZM508.3 818.5L510.5 815L516.5 815L516.5 821L514.3 824.5L508.3 824.5ZM510.5 815L512.7 811.5L518.7 811.5L518.7 817.5L516.5 821L510.5 821ZM512.7 811.5L514.8 808L520.8 808L520.8 814L518.7 817.5L512.7 817.5ZM514.8 808L517 804.5L523 804.5L523 810.5L520.8 814L514.8 814ZM517 804.5L519.1 801.1L525.1 801.1L525.1 807.1L523 810.5L517 810.5ZM519.1 801.1L521.2 797.7L527.2 797.7L527.2 803.7L525.1 807.1L519.1 807.1ZM521.2 797.7L523.3 794.2L529.3 794.2L529.3 800.2L527.2 803.7L521.2 803.7ZM523.3 794.2L525.3 790.7L531.3 790.7L531.3 796.7L529.3 800.2L523.3 800.2ZM525.3 790.7L527.3 787.3L533.3 787.3L533.3 793.3L531.3 796.7L525.3 796.7ZM527.3 787.3L529.3 783.9L535.3 783.9L535.3 789.9L533.3 793.3L527.3 793.3ZM529.3 783.9L531.3 780.4L537.3 780.4L537.3 786.4L535.3 789.9L529.3 789.9ZM531.3 780.4L533.3 776.8L539.3 776.8L539.3 782.8L537.3 786.4L531.3 786.4ZM533.3 776.8L535.5 773L541.5 773L541.5 779L539.3 782.8L533.3 782.8ZM535.5 773L537.8 769L543.8 769L543.8 775L541.5 779L535.5 779ZM537.8 769L540.1 764.8L546.1 764.8L546.1 770.8L543.8 775L537.8 775ZM540.1 764.8L542.5 760.5L548.5 760.5L548.5 766.5L546.1 770.8L540.1 770.8ZM542.5 760.5L545 756.2L551 756.2L551 762.2L548.5 766.5L542.5 766.5ZM545 756.2L547.5 752L553.5 752L553.5 758L551 762.2L545 762.2ZM547.5 752L550 748L556 748L556 754L553.5 758L547.5 758ZM550 748L552.6 744.2L558.6 744.2L558.6 750.2L556 754L550 754ZM552.6 744.2L555.2 740.6L561.2 740.6L561.2 746.6L558.6 750.2L552.6 750.2ZM555.2 740.6L557.9 737.1L563.9 737.1L563.9 743.1L561.2 746.6L555.2 746.6ZM557.9 737.1L560.6 733.7L566.6 733.7L566.6 739.7L563.9 743.1L557.9 743.1ZM560.6 733.7L563.3 730.3L569.3 730.3L569.3 736.3L566.6 739.7L560.6 739.7ZM563.3 730.3L566 727L572 727L572 733L569.3 736.3L563.3 736.3ZM566 727L568.9 723.5L574.9 723.5L574.9 729.5L572 733L566 733ZM568.9 723.5L572.1 719.9L578.1 719.9L578.1 725.9L574.9 729.5L568.9 729.5ZM572.1 719.9L575.2 716.4L581.2 716.4L581.2 722.4L578.1 725.9L572.1 725.9ZM575.2 716.4L578.2 713.1L584.2 713.1L584.2 719.1L581.2 722.4L575.2 722.4ZM578.2 713.1L580.7 710.4L586.7 710.4L586.7 716.4L584.2 719.1L578.2 719.1ZM580.7 710.4L582.5 708.4L588.5 708.4L588.5 714.4L586.7 716.4L580.7 716.4ZM582.5 708.4L591.6 697.5L597.6 697.5L597.6 703.5L588.5 714.4L582.5 714.4ZM591.6 697.5L600.7 685.7L606.7 685.7L606.7 691.7L597.6 703.5L591.6 703.5ZM600.7 685.7L611.3 675.7L617.3 675.7L617.3 681.7L606.7 691.7L600.7 691.7ZM611.3 675.7L622.2 663.8L628.2 663.8L628.2 669.8L617.3 681.7L611.3 681.7ZM622.2 663.8L633.5 652.9L639.5 652.9L639.5 658.9L628.2 669.8L622.2 669.8ZM633.5 652.9L646.3 642L652.3 642L652.3 648L639.5 658.9L633.5 658.9ZM646.3 642L658.1 631L664.1 631L664.1 637L652.3 648L646.3 648ZM658.1 631L669.9 618.3L675.9 618.3L675.9 624.3L664.1 637L658.1 637ZM669.9 618.3L684.5 607.3L690.5 607.3L690.5 613.3L675.9 624.3L669.9 624.3ZM684.5 607.3L693.6 596.4L699.6 596.4L699.6 602.4L690.5 613.3L684.5 613.3ZM693.6 596.4L709.6 582.4L715.6 582.4L715.6 588.4L699.6 602.4L693.6 602.4ZM709.6 582.4L723.7 569.6L729.7 569.6L729.7 575.6L715.6 588.4L709.6 588.4ZM723.7 569.6L739.1 557.3L745.1 557.3L745.1 563.3L729.7 575.6L723.7 575.6ZM739.1 557.3L755.2 545.4L761.2 545.4L761.2 551.4L745.1 563.3L739.1 563.3ZM755.2 545.4L771.9 532.7L777.9 532.7L777.9 538.7L761.2 551.4L755.2 551.4ZM771.9 532.7L788.7 521.7L794.7 521.7L794.7 527.7L777.9 538.7L771.9 538.7ZM788.7 521.7L808 507.7L814 507.7L814 513.7L794.7 527.7L788.7 527.7ZM808 507.7L826.2 493.1L832.2 493.1L832.2 499.1L814 513.7L808 513.7ZM826.2 493.1L846.6 482.6L852.6 482.6L852.6 488.6L832.2 499.1L826.2 499.1ZM846.6 482.6L863 472.6L869 472.6L869 478.6L852.6 488.6L846.6 488.6ZM863 472.6L884.9 462.5L890.9 462.5L890.9 468.5L869 478.6L863 478.6ZM884.9 462.5L908 445.2L914 445.2L914 451.2L890.9 468.5L884.9 468.5ZM908 445.2L931.6 436L937.6 436L937.6 442L914 451.2L908 451.2ZM931.6 436L956.3 423.8L962.3 423.8L962.3 429.8L937.6 442L931.6 442ZM956.3 423.8L982.7 412.3L988.7 412.3L988.7 418.3L962.3 429.8L956.3 429.8ZM982.7 412.3L1000.3 402.2L1006.3 402.2L1006.3 408.2L988.7 418.3L982.7 418.3ZM1000.3 402.2L1028.9 392.5L1034.9 392.5L1034.9 398.5L1006.3 408.2L1000.3 408.2ZM1028.9 392.5L1057.6 379.4L1063.6 379.4L1063.6 385.4L1034.9 398.5L1028.9 398.5ZM1057.6 379.4L1092.3 367.2L1098.3 367.2L1098.3 373.2L1063.6 385.4L1057.6 385.4ZM1092.3 367.2L1125.2 354.8L1131.2 354.8L1131.2 360.8L1098.3 373.2L1092.3 373.2ZM1125.2 354.8L1162.7 345.3L1168.7 345.3L1168.7 351.3L1131.2 360.8L1125.2 360.8ZM1162.7 345.3L1201.5 332.7L1207.5 332.7L1207.5 338.7L1168.7 351.3L1162.7 351.3ZM1201.5 332.7L1245 321.4L1251 321.4L1251 327.4L1207.5 338.7L1201.5 338.7ZM1245 321.4L1290.6 311.3L1296.6 311.3L1296.6 317.3L1251 327.4L1245 327.4ZM1290.6 311.3L1340.2 296.6L1346.2 296.6L1346.2 302.6L1296.6 317.3L1290.6 317.3ZM1340.2 296.6L1392 285.3L1398 285.3L1398 291.3L1346.2 302.6L1340.2 302.6ZM1392 285.3L1451.3 274.6L1457.3 274.6L1457.3 280.6L1398 291.3L1392 291.3ZM1451.3 274.6L1513.8 262.4L1519.8 262.4L1519.8 268.4L1457.3 280.6L1451.3 280.6ZM1513.8 262.4L1583.6 250.5L1589.6 250.5L1589.6 256.5L1519.8 268.4L1513.8 268.4ZM1583.6 250.5L1652.6 237.4L1658.6 237.4L1658.6 243.4L1589.6 256.5L1583.6 256.5ZM1652.6 237.4L1745.8 224.8L1751.8 224.8L1751.8 230.8L1658.6 243.4L1652.6 243.4ZM1745.8 224.8L1847.4 214L1853.4 214L1853.4 220L1751.8 230.8L1745.8 230.8ZM1847.4 214L1972.8 202.9L1978.8 202.9L1978.8 208.9L1853.4 220L1847.4 220ZM1972.8 202.9L2125 190.5L2131 190.5L2131 196.5L1978.8 208.9L1972.8 208.9Z"/>
<g fill="#040000">
<circle cx="585.5" cy="711.4" r="11.0"/>
<circle cx="576" cy="721.9" r="11.0"/>
<circle cx="566.8" cy="732.7" r="11.0"/>
<circle cx="558" cy="743.9" r="11.0"/>
<circle cx="550.1" cy="755.7" r="11.0"/>
<circle cx="543" cy="768" r="11.0"/>
<circle cx="536" cy="780.3" r="11.0"/>
<circle cx="529" cy="792.7" r="11.0"/>
<circle cx="521.6" cy="804.8" r="11.0"/>
<circle cx="514.2" cy="816.9" r="11.0"/>
<circle cx="506.8" cy="829" r="11.0"/>
<circle cx="499.8" cy="841.4" r="11.0"/>
<circle cx="493.5" cy="854.2" r="11.0"/>
<circle cx="487.6" cy="867" r="11.0"/>
<circle cx="481.7" cy="880" r="11.0"/>
<circle cx="475.9" cy="892.9" r="11.0"/>
<circle cx="469.8" cy="905.7" r="11.0"/>
<circle cx="463.8" cy="918.2" r="11.0"/>
<circle cx="458.5" cy="930.6" r="11.0"/>
<circle cx="453.5" cy="942.7" r="11.0"/>
<circle cx="448.7" cy="954.4" r="11.0"/>
<circle cx="444.1" cy="965.9" r="11.0"/>
<circle cx="440" cy="977.2" r="11.0"/>
<circle cx="436.4" cy="988.3" r="11.0"/>
<circle cx="433.5" cy="999.3" r="11.0"/>
<circle cx="431.1" cy="1010.1" r="11.0"/>
<circle cx="429.4" cy="1019.7" r="11.0"/>
<circle cx="428.2" cy="1028.4" r="11.0"/>
<circle cx="427.4" cy="1036" r="11.0"/>
<circle cx="426.8" cy="1042.8" r="11.0"/>
<circle cx="426.3" cy="1048.8" r="11.0"/>
<circle cx="426.1" cy="1054.1" r="11.0"/>
<circle cx="425.8" cy="1058.8" r="11.0"/>
<circle cx="425.6" cy="1062.9" r="11.0"/>
<circle cx="425.5" cy="1066.9" r="11.0"/>
<circle cx="425.3" cy="1070.9" r="11.0"/>
<circle cx="425.3" cy="1074.9" r="11.0"/>
<circle cx="425.3" cy="1078.9" r="11.0"/>
<circle cx="425.3" cy="1082.9" r="11.0"/>
<circle cx="425.3" cy="1086.9" r="11.0"/>
<circle cx="425.3" cy="1090.9" r="11.0"/>
<circle cx="425.3" cy="1094.9" r="11.0"/>
<circle cx="425.3" cy="1098.9" r="11.0"/>
<circle cx="425.3" cy="1102.9" r="11.0"/>
<circle cx="425.3" cy="1106.9" r="11.0"/>
<circle cx="425.3" cy="1110.9" r="11.0"/>
<circle cx="425.3" cy="1114.9" r="11.0"/>
<circle cx="425.3" cy="1118.9" r="11.0"/>
<circle cx="425.3" cy="1122.9" r="11.0"/>
<circle cx="425.3" cy="1126.9" r="11.0"/>
<circle cx="425.3" cy="1130.9" r="11.0"/>
<circle cx="425.3" cy="1134.9" r="11.0"/>
<circle cx="425.3" cy="1138.9" r="11.0"/>
<circle cx="425.3" cy="1142.9" r="11.0"/>
<circle cx="425.3" cy="1146.9" r="11.0"/>
<circle cx="425.3" cy="1150.9" r="11.0"/>
<circle cx="425.3" cy="1154.9" r="11.0"/>
<circle cx="425.3" cy="1158.9" r="11.0"/>
<circle cx="425.3" cy="1162.9" r="11.0"/>
<circle cx="425.3" cy="1166.9" r="11.0"/>
<circle cx="425.3" cy="1170.9" r="11.0"/>
<circle cx="425.3" cy="1174.9" r="11.0"/>
<circle cx="425.3" cy="1178.9" r="11.0"/>
<circle cx="425.3" cy="1182.9" r="11.0"/>
<circle cx="425.3" cy="1186.9" r="11.0"/>
<circle cx="425.3" cy="1190.9" r="11.0"/>
<circle cx="425.3" cy="1194.9" r="11.0"/>
<circle cx="425.3" cy="1198.9" r="11.0"/>
<circle cx="425.3" cy="1202.9" r="11.0"/>
<circle cx="425.3" cy="1206.9" r="11.0"/>
<circle cx="425.3" cy="1210.9" r="11.0"/>
<circle cx="425.3" cy="1214.9" r="11.0"/>
<circle cx="425.3" cy="1218.9" r="11.0"/>
<circle cx="425.3" cy="1222.9" r="11.0"/>
<circle cx="425.3" cy="1226.9" r="11.0"/>
<circle cx="425.3" cy="1230.9" r="11.0"/>
<circle cx="425.3" cy="1234.9" r="11.0"/>
<circle cx="425.3" cy="1238.9" r="11.0"/>
<circle cx="425.3" cy="1242.9" r="11.0"/>
<circle cx="425.3" cy="1246.9" r="11.0"/>
<circle cx="425.3" cy="1250.9" r="11.0"/>
<circle cx="425.3" cy="1254.9" r="11.0"/>
<circle cx="425.3" cy="1258.9" r="11.0"/>
<circle cx="425.3" cy="1262.9" r="11.0"/>
<circle cx="425.3" cy="1266.9" r="11.0"/>
<circle cx="425.3" cy="1270.9" r="11.0"/>
<circle cx="425.3" cy="1274.9" r="11.0"/>
<circle cx="425.3" cy="1278.9" r="11.0"/>
<circle cx="425.3" cy="1282.9" r="11.0"/>
<circle cx="425.3" cy="1286.9" r="11.0"/>
<circle cx="425.3" cy="1290.9" r="11.0"/>
<circle cx="425.3" cy="1294.9" r="11.0"/>
<circle cx="425.3" cy="1298.9" r="11.0"/>
<circle cx="425.3" cy="1302.9" r="11.0"/>
<circle cx="425.3" cy="1306.9" r="11.0"/>
<circle cx="425.3" cy="1310.9" r="11.0"/>
<circle cx="425.3" cy="1314.9" r="11.0"/>
<circle cx="425.3" cy="1318.9" r="11.0"/>
<circle cx="425.3" cy="1322.9" r="11.0"/>
<circle cx="425.3" cy="1326.9" r="11.0"/>
<circle cx="425.3" cy="1330.9" r="11.0"/>
<circle cx="425.3" cy="1334.9" r="11.0"/>
<circle cx="425.3" cy="1338.9" r="11.0"/>
<circle cx="425.3" cy="1342.9" r="11.0"/>
<circle cx="425.3" cy="1346.9" r="11.0"/>
<circle cx="425.3" cy="1350.9" r="11.0"/>
<circle cx="425.3" cy="1354.9" r="11.0"/>
<circle cx="425.3" cy="1358.9" r="11.0"/>
<circle cx="425.3" cy="1362.9" r="11.0"/>
<circle cx="425.3" cy="1366.9" r="11.0"/>
<circle cx="425.3" cy="1370.9" r="11.0"/>
<circle cx="425.3" cy="1374.9" r="11.0"/>
<circle cx="425.3" cy="1378.9" r="11.0"/>
<circle cx="425.3" cy="1382.9" r="11.0"/>
<circle cx="425.3" cy="1386.9" r="11.0"/>
<circle cx="425.3" cy="1390.9" r="11.0"/>
<circle cx="425.3" cy="1394.9" r="11.0"/>
<circle cx="425.3" cy="1398.9" r="11.0"/>
<circle cx="425.3" cy="1402.9" r="11.0"/>
<circle cx="425.3" cy="1406.9" r="11.0"/>
<circle cx="425.3" cy="1410.9" r="11.0"/>
<circle cx="425.3" cy="1414.9" r="11.0"/>
<circle cx="425.3" cy="1418.9" r="11.0"/>
<circle cx="425.3" cy="1422.9" r="11.0"/>
<circle cx="425.3" cy="1426.9" r="11.0"/>
<circle cx="425.3" cy="1430.9" r="11.0"/>
<circle cx="425.3" cy="1434.9" r="11.0"/>
<circle cx="425.3" cy="1438.9" r="11.0"/>
<circle cx="425.3" cy="1442.9" r="11.0"/>
<circle cx="425.3" cy="1446.9" r="11.0"/>
<circle cx="425.3" cy="1450.9" r="11.0"/>
<circle cx="594.6" cy="700.5" r="11.0"/>
<circle cx="603.7" cy="688.7" r="11.0"/>
<circle cx="614.3" cy="678.7" r="11.0"/>
<circle cx="625.2" cy="666.8" r="11.0"/>
<circle cx="636.5" cy="655.9" r="11.0"/>
<circle cx="649.3" cy="645" r="11.0"/>
<circle cx="661.1" cy="634" r="11.0"/>
<circle cx="672.9" cy="621.3" r="11.0"/>
<circle cx="687.5" cy="610.3" r="11.0"/>
<circle cx="696.6" cy="599.4" r="11.0"/>
<circle cx="712.6" cy="585.4" r="11.0"/>
<circle cx="726.7" cy="572.6" r="11.0"/>
<circle cx="742.1" cy="560.3" r="11.0"/>
<circle cx="758.2" cy="548.4" r="11.0"/>
<circle cx="774.9" cy="535.7" r="11.0"/>
<circle cx="791.7" cy="524.7" r="11.0"/>
<circle cx="811" cy="510.7" r="11.0"/>
<circle cx="829.2" cy="496.1" r="11.0"/>
<circle cx="849.6" cy="485.6" r="11.0"/>
<circle cx="866" cy="475.6" r="11.0"/>
<circle cx="887.9" cy="465.5" r="11.0"/>
<circle cx="911" cy="448.2" r="11.0"/>
<circle cx="934.6" cy="439" r="11.0"/>
<circle cx="959.3" cy="426.8" r="11.0"/>
<circle cx="985.7" cy="415.3" r="11.0"/>
<circle cx="1003.3" cy="405.2" r="11.0"/>
<circle cx="1031.9" cy="395.5" r="11.0"/>
<circle cx="1060.6" cy="382.4" r="11.0"/>
<circle cx="1095.3" cy="370.2" r="11.0"/>
<circle cx="1128.2" cy="357.8" r="11.0"/>
<circle cx="1165.7" cy="348.3" r="11.0"/>
<circle cx="1204.5" cy="335.7" r="11.0"/>
<circle cx="1248" cy="324.4" r="11.0"/>
<circle cx="1293.6" cy="314.3" r="11.0"/>
<circle cx="1343.2" cy="299.6" r="11.0"/>
<circle cx="1395" cy="288.3" r="11.0"/>
<circle cx="1454.3" cy="277.6" r="11.0"/>
<circle cx="1516.8" cy="265.4" r="11.0"/>
<circle cx="1586.6" cy="253.5" r="11.0"/>
<circle cx="1655.6" cy="240.4" r="11.0"/>
<circle cx="1748.8" cy="227.8" r="11.0"/>
<circle cx="1850.4" cy="217" r="11.0"/>
<circle cx="1975.8" cy="205.9" r="11.0"/>
<circle cx="2128" cy="193.5" r="11.0"/>
</g>
<g fill="#fff" shape-rendering="crispEdges">
<rect x="416" y="1180" width="4" height="1"/>
<rect x="430" y="1180" width="3" height="1"/>
<rect x="416" y="1183" width="1" height="1"/>
<rect x="432" y="1183" width="1" height="1"/>
</g>
<g fill="#040000" shape-rendering="crispEdges">
<rect x="1213" y="724" width="188" height="6"/>
<rect x="1213" y="830" width="188" height="6"/>
<rect x="1213" y="937" width="188" height="6"/>
</g>
<circle cx="1307.4" cy="726.8" r="11.2" fill="#040000"/>
<g fill="none" stroke="#040000" stroke-width="2">
<path d="M1295.5 822.8H1316.9M1316.9 820.2V841.6M1298.1 841.6H1319.5M1298.1 822.8V844.2"/>
<circle cx="1307.5" cy="940.2" r="9.4"/>
</g>
<g font-size="55.6">
<text transform="translate(1448.5 740.8) scale(1 1.04)">EIM5</text>
<text transform="translate(1448.5 839.8) scale(1 1.04)">EIM4</text>
<text transform="translate(1448.5 951.8) scale(1 1.04)" xml:space="preserve"> IM</text>
</g>
</svg></body></html>
